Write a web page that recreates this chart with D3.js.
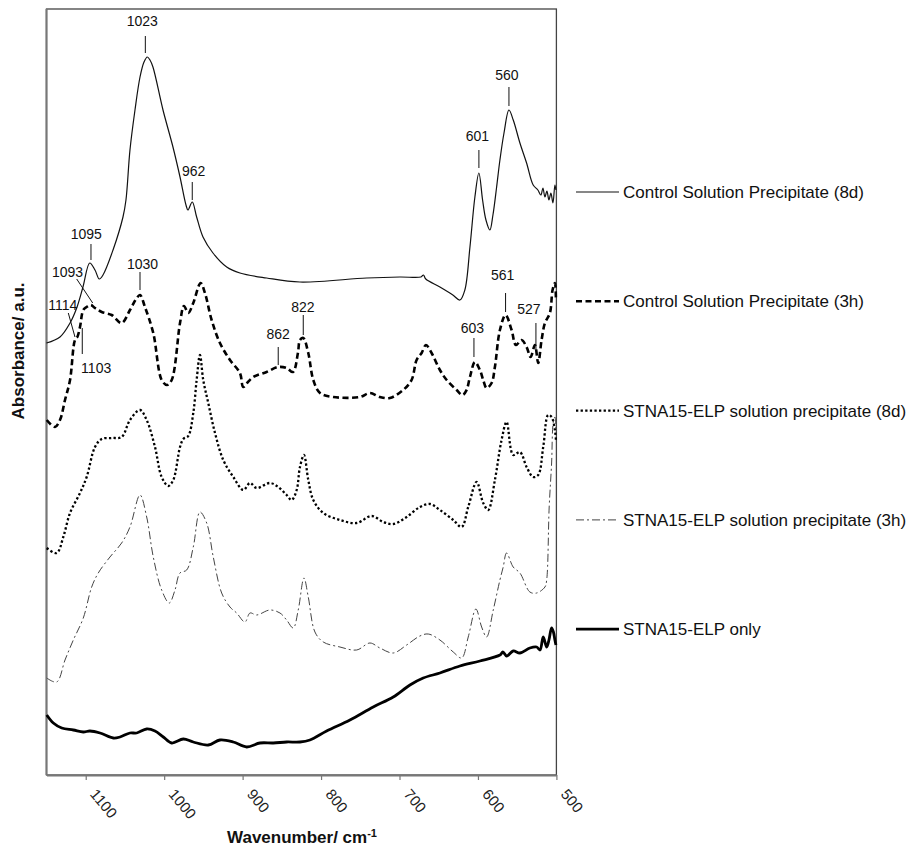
<!DOCTYPE html>
<html>
<head>
<meta charset="utf-8">
<script src="https://cdn.jsdelivr.net/npm/d3@7"></script>
<style>
  body { margin: 0; background: #fff; }
  svg { font-family: "Liberation Sans", Arial, sans-serif; }
</style>
</head>
<body>
<div id="chart"></div>
<script>
// wavenumber (cm-1), absorbance (a.u., traces offset for display)
const ctrl8d = [
  [1150, 4.32], [1132.8, 4.38], [1120, 4.52], [1111.5, 4.67], [1103.5, 4.88],
  [1094.9, 5.12], [1088.2, 5.05], [1082.7, 4.96], [1078, 5.0], [1065.2, 5.25],
  [1052.5, 5.58], [1048.7, 5.75], [1043.6, 6.25], [1037.2, 6.65], [1030.8, 6.98],
  [1025.7, 7.13], [1021.5, 7.18], [1018.1, 7.15], [1014.3, 7.08], [1001.5, 6.65],
  [988.8, 6.28], [979.8, 5.98], [972.2, 5.7], [969.7, 5.65], [964.2, 5.73],
  [958.6, 5.58], [950.5, 5.38], [937.8, 5.22], [920.3, 5.08], [903.4, 5.02],
  [869.4, 4.97], [826.9, 4.93], [741.9, 4.97], [699.4, 4.98], [672.7, 4.98],
  [669.5, 5.0], [666.5, 4.96], [648.5, 4.88], [632, 4.8], [623, 4.75],
  [616.7, 4.85], [610.2, 5.28], [603.9, 5.78], [598.8, 6.02], [594.1, 5.75],
  [589.8, 5.55], [584.8, 5.45], [580.9, 5.6], [576.2, 5.88], [572, 6.15],
  [566.8, 6.42], [560.5, 6.65], [555, 6.55], [546.5, 6.32], [538, 6.12],
  [529.6, 5.9], [523.6, 5.85], [519.8, 5.8], [517.2, 5.87], [514.6, 5.78],
  [512.1, 5.84], [509.5, 5.75], [507, 5.82], [504.4, 5.72], [501.9, 5.9], [500.6, 5.85]
];

const ctrl3h = [
  [1149.7, 3.55], [1139.2, 3.48], [1132.8, 3.55], [1126.4, 3.75], [1120, 3.95],
  [1113.7, 4.35], [1110.7, 4.38], [1107.3, 4.48], [1103.1, 4.65], [1098.8, 4.68],
  [1093.7, 4.7], [1088.2, 4.67], [1079.6, 4.63], [1066.9, 4.6], [1054.2, 4.52],
  [1043.6, 4.65], [1035, 4.77], [1030.8, 4.8], [1024.5, 4.68], [1013.9, 4.42],
  [1003.2, 3.95], [996.4, 3.9], [990.4, 3.95], [979.8, 4.52], [974.8, 4.69],
  [969.3, 4.62], [962.9, 4.72], [953.5, 4.92], [948, 4.82], [939.5, 4.55],
  [928.9, 4.32], [916.1, 4.15], [903.4, 4.02], [899.2, 3.88], [893.2, 3.93],
  [886.4, 3.98], [869.4, 4.03], [854.6, 4.08], [843.9, 4.07], [835.8, 4.03],
  [829.5, 4.22], [826.9, 4.35], [822.7, 4.37], [816.3, 4.22], [809.9, 3.95],
  [801.4, 3.82], [784.5, 3.78], [750.5, 3.78], [737.8, 3.82], [725, 3.78],
  [712.3, 3.77], [695.3, 3.85], [684.6, 3.95], [678.2, 4.15], [671.8, 4.22],
  [666.3, 4.3], [659.1, 4.22], [648.5, 4.05], [639.9, 3.95], [627.2, 3.85],
  [619.5, 3.8], [614.5, 3.85], [610.2, 3.98], [603.9, 4.13], [597.5, 4.05],
  [593.3, 3.95], [589, 3.87], [582.6, 3.92], [578.4, 4.08], [572, 4.45],
  [564.8, 4.6], [557.1, 4.45], [551.6, 4.3], [544.4, 4.35], [538, 4.28],
  [532.9, 4.18], [527.4, 4.3], [523.2, 4.12], [518.9, 4.35], [514.6, 4.52],
  [508.3, 4.62], [504.9, 4.85], [501.9, 4.92], [500.6, 4.75]
];

const stna8d = [
  [1149.7, 2.27], [1137, 2.22], [1128.6, 2.38], [1120, 2.62], [1107.3, 2.82],
  [1098.8, 2.98], [1088.2, 3.28], [1079.6, 3.36], [1066.9, 3.37], [1054.2, 3.38],
  [1043.6, 3.55], [1030.8, 3.65], [1022.3, 3.55], [1011.7, 3.28], [1003.2, 2.98],
  [994.8, 2.89], [988.4, 2.95], [979.8, 3.28], [975.6, 3.36], [969.3, 3.39],
  [962.9, 3.62], [958.6, 3.95], [954.4, 4.2], [950.2, 3.95], [943.8, 3.72],
  [935.2, 3.42], [924.7, 3.15], [911.9, 2.98], [899.2, 2.85], [890.6, 2.92],
  [882.1, 2.87], [865.2, 2.92], [854.6, 2.88], [843.9, 2.8], [837.5, 2.75],
  [831.1, 2.85], [826.9, 3.08], [821.8, 3.2], [816.3, 2.95], [809.9, 2.75],
  [797.2, 2.62], [775.9, 2.55], [754.6, 2.52], [735.5, 2.59], [720.7, 2.53],
  [708, 2.51], [690.9, 2.58], [674, 2.68], [661.2, 2.71], [648.5, 2.65],
  [631.5, 2.55], [620.8, 2.48], [612.4, 2.68], [601.7, 2.93], [593.3, 2.72],
  [586.9, 2.65], [578.4, 2.95], [569.9, 3.35], [563.5, 3.53], [555.1, 3.2],
  [546.5, 3.23], [538, 3.08], [529.6, 2.98], [523.2, 3.0], [516.8, 3.28],
  [510.5, 3.6], [506.1, 3.58], [501.9, 3.45], [500.6, 3.35]
];

const stna3h = [
  [1149.7, 0.97], [1137, 0.93], [1126.4, 1.15], [1115.8, 1.35], [1103.1, 1.57],
  [1092.4, 1.88], [1084, 2.02], [1069.1, 2.18], [1054.2, 2.32], [1043.6, 2.48],
  [1030.8, 2.8], [1022.3, 2.58], [1013.9, 2.18], [1003.2, 1.85], [993.5, 1.72],
  [986.2, 1.85], [979.9, 2.02], [971.3, 2.05], [962.9, 2.28], [954.4, 2.63],
  [945.8, 2.52], [937.4, 2.18], [926.7, 1.82], [916.1, 1.68], [907.6, 1.62],
  [897, 1.53], [890.6, 1.62], [882.1, 1.6], [865.2, 1.65], [852.4, 1.62],
  [843.9, 1.55], [835.5, 1.47], [829.1, 1.65], [821.8, 1.97], [816.3, 1.78],
  [807.8, 1.43], [797.2, 1.33], [775.9, 1.28], [754.6, 1.25], [737.7, 1.32],
  [725, 1.27], [708, 1.22], [690.9, 1.3], [674, 1.39], [663.4, 1.41],
  [648.5, 1.35], [631.5, 1.23], [620.8, 1.17], [612.4, 1.38], [602.6, 1.66],
  [595.3, 1.48], [589, 1.38], [580.5, 1.65], [572, 1.95], [567.8, 2.08],
  [563.5, 2.22], [555.1, 2.08], [546.5, 2.02], [533.8, 1.83], [525.2, 1.82],
  [514.6, 1.88], [512.4, 1.95], [509.2, 2.68], [506.1, 3.12], [504.1, 3.52],
  [501.9, 3.58], [500.6, 3.45]
];

const stnaOnly = [
  [1149.7, 0.6], [1141.3, 0.52], [1130.6, 0.47], [1115.8, 0.45], [1103.1, 0.43],
  [1094.6, 0.44], [1081.8, 0.42], [1064.9, 0.37], [1056.3, 0.38], [1043.6, 0.42],
  [1035, 0.42], [1022.3, 0.46], [1011.7, 0.44], [1001.1, 0.38], [990.4, 0.32],
  [975.6, 0.36], [962.9, 0.33], [943.8, 0.3], [928.9, 0.35], [911.9, 0.33],
  [894.8, 0.28], [877.9, 0.32], [860.9, 0.32], [843.9, 0.33], [826.9, 0.33],
  [814.2, 0.35], [792.9, 0.44], [763.2, 0.55], [733.5, 0.68], [708, 0.78],
  [686.7, 0.9], [669.8, 0.97], [648.5, 1.02], [623, 1.09], [597.5, 1.14],
  [572, 1.2], [568.2, 1.23], [563.5, 1.19], [555.1, 1.24], [546.5, 1.22],
  [533.8, 1.27], [525.2, 1.28], [520.9, 1.25], [516.8, 1.38], [512.4, 1.28],
  [509.5, 1.35], [506.1, 1.47], [503.8, 1.43], [501.9, 1.35], [500.6, 1.3]
];

const seriesNames = [
  "Control Solution Precipitate (8d)",
  "Control Solution Precipitate (3h)",
  "STNA15-ELP solution precipitate (8d)",
  "STNA15-ELP solution precipitate (3h)",
  "STNA15-ELP only"
];

const xTicks = [1100, 1000, 900, 800, 700, 600, 500];

// peak labels: tick at wn from y0 to y1, text centred at tx / baseline ty
const peakLabels = [
  { label: "1023", wn: 1024, y0: 7.22, y1: 7.39, tx: 1027.9, ty: 7.49 },
  { label: "962", wn: 964.2, y0: 5.75, y1: 5.93, tx: 962.4, ty: 5.99 },
  { label: "1095", wn: 1093.3, y0: 5.15, y1: 5.31, tx: 1099.3, ty: 5.36 },
  { label: "1030", wn: 1030.8, y0: 4.85, y1: 5.03, tx: 1027.6, ty: 5.06 },
  { label: "1103", wn: 1104.4, y0: 4.21, y1: 4.47, tx: 1086.7, ty: 4.02 },
  { label: "862", wn: 854.6, y0: 4.1, y1: 4.28, tx: 854.6, ty: 4.36 },
  { label: "822", wn: 822.7, y0: 4.4, y1: 4.6, tx: 823.1, ty: 4.63 },
  { label: "603", wn: 605.1, y0: 4.18, y1: 4.37, tx: 607, ty: 4.42 },
  { label: "561", wn: 564.8, y0: 4.63, y1: 4.82, tx: 568.6, ty: 4.95 },
  { label: "527", wn: 526.1, y0: 4.25, y1: 4.52, tx: 535, ty: 4.61 },
  { label: "601", wn: 598.8, y0: 6.07, y1: 6.25, tx: 600.7, ty: 6.34 },
  { label: "560", wn: 560.5, y0: 6.69, y1: 6.88, tx: 563.1, ty: 6.95 }
];

// slanted leaders: from (wnA, yA) to (wnB, yB)
const leaderLabels = [
  { label: "1093", wnA: 1111.5, yA: 4.96, wnB: 1091.1, yB: 4.72, tx: 1123.2, ty: 4.98 },
  { label: "1114", wnA: 1122.2, yA: 4.62, wnB: 1113.7, yB: 4.38, tx: 1129.2, ty: 4.65 }
];

const width = 914, height = 849;
const plotLeft = 46.5, plotRight = 556.4, plotTop = 9, plotBottom = 775;

const svg = d3.select("#chart")
  .append("svg")
  .attr("width", width)
  .attr("height", height);

const x = d3.scaleLinear().domain([1150, 500]).range([plotLeft, plotRight]);
const y = d3.scaleLinear().domain([0, 7.66]).range([plotBottom, plotTop]);

// frame
svg.append("rect")
  .attr("x", plotLeft)
  .attr("y", plotTop)
  .attr("width", plotRight - plotLeft)
  .attr("height", plotBottom - plotTop)
  .attr("fill", "none")
  .attr("stroke", "#444")
  .attr("stroke-width", 1.3);

svg.append("line")
  .attr("x1", plotLeft).attr("x2", plotLeft)
  .attr("y1", plotTop).attr("y2", plotBottom)
  .attr("stroke", "#777")
  .attr("stroke-width", 2);

const xAxis = svg.append("g")
  .attr("transform", `translate(0,${plotBottom})`)
  .call(d3.axisBottom(x).tickValues(xTicks).tickFormat(d3.format("d"))
    .tickSize(5).tickSizeOuter(0));

xAxis.select(".domain").attr("stroke", "#777").attr("stroke-width", 2);
xAxis.selectAll(".tick line").attr("stroke", "#777").attr("stroke-width", 1.2);
xAxis.selectAll("text")
  .attr("font-family", "Liberation Sans, Arial, sans-serif")
  .attr("font-size", 15)
  .attr("fill", "#222")
  .attr("text-anchor", "start")
  .attr("x", 17)
  .attr("y", 5)
  .attr("dy", "0.35em")
  .attr("transform", "rotate(50)");

const styles = [
  { width: 1.2, dash: null, color: "#111" },
  { width: 2.6, dash: "6,3.5", color: "#000" },
  { width: 2.3, dash: "2.3,2.3", color: "#000" },
  { width: 1, dash: "8,3,2,3", color: "#444" },
  { width: 2.8, dash: null, color: "#000" }
];

const allSeries = [ctrl8d, ctrl3h, stna8d, stna3h, stnaOnly];

const line = d3.line()
  .x((d) => x(d[0]))
  .y((d) => y(d[1]))
  .curve(d3.curveCatmullRom.alpha(0.5));

svg.selectAll(".trace")
  .data(allSeries)
  .join("path")
  .attr("class", "trace")
  .attr("d", line)
  .attr("fill", "none")
  .attr("stroke", (d, i) => styles[i].color)
  .attr("stroke-width", (d, i) => styles[i].width)
  .attr("stroke-dasharray", (d, i) => styles[i].dash)
  .attr("stroke-linejoin", "round");

// peak annotations
const ann = svg.append("g").attr("font-size", 14).attr("fill", "#111");
ann.selectAll(".pk-line")
  .data(peakLabels)
  .join("line")
  .attr("class", "pk-line")
  .attr("x1", (d) => x(d.wn)).attr("x2", (d) => x(d.wn))
  .attr("y1", (d) => y(d.y0)).attr("y2", (d) => y(d.y1))
  .attr("stroke", "#111")
  .attr("stroke-width", 1);
ann.selectAll(".pk-text")
  .data(peakLabels)
  .join("text")
  .attr("class", "pk-text")
  .attr("x", (d) => x(d.tx))
  .attr("y", (d) => y(d.ty))
  .attr("text-anchor", "middle")
  .text((d) => d.label);

ann.selectAll(".ld-line")
  .data(leaderLabels)
  .join("line")
  .attr("class", "ld-line")
  .attr("x1", (d) => x(d.wnA)).attr("x2", (d) => x(d.wnB))
  .attr("y1", (d) => y(d.yA)).attr("y2", (d) => y(d.yB))
  .attr("stroke", "#111")
  .attr("stroke-width", 1);
ann.selectAll(".ld-text")
  .data(leaderLabels)
  .join("text")
  .attr("class", "ld-text")
  .attr("x", (d) => x(d.tx))
  .attr("y", (d) => y(d.ty))
  .attr("text-anchor", "middle")
  .text((d) => d.label);

// legend
const legend = svg.selectAll(".legend")
  .data(seriesNames)
  .join("g")
  .attr("class", "legend")
  .attr("transform", (d, i) => `translate(576,${192 + i * 109.3})`);

legend.append("line")
  .attr("x1", 0).attr("x2", 43)
  .attr("y1", 0).attr("y2", 0)
  .attr("stroke", (d, i) => styles[i].color)
  .attr("stroke-width", (d, i) => styles[i].width)
  .attr("stroke-dasharray", (d, i) => styles[i].dash);

legend.append("text")
  .attr("x", 47)
  .attr("dy", "0.35em")
  .attr("font-size", 17)
  .attr("fill", "#111")
  .text((d) => d);

// axis titles
const xTitle = svg.append("text")
  .attr("x", 302)
  .attr("y", 843)
  .attr("text-anchor", "middle")
  .attr("font-size", 17)
  .attr("font-weight", "bold")
  .attr("fill", "#111");
xTitle.append("tspan").text("Wavenumber/ cm");
xTitle.append("tspan").attr("dy", -6).attr("font-size", 11).text("-1");

svg.append("text")
  .attr("transform", "translate(24,351) rotate(-90)")
  .attr("text-anchor", "middle")
  .attr("font-size", 17)
  .attr("font-weight", "bold")
  .attr("fill", "#111")
  .text("Absorbance/ a.u.");
</script>
</body>
</html>
